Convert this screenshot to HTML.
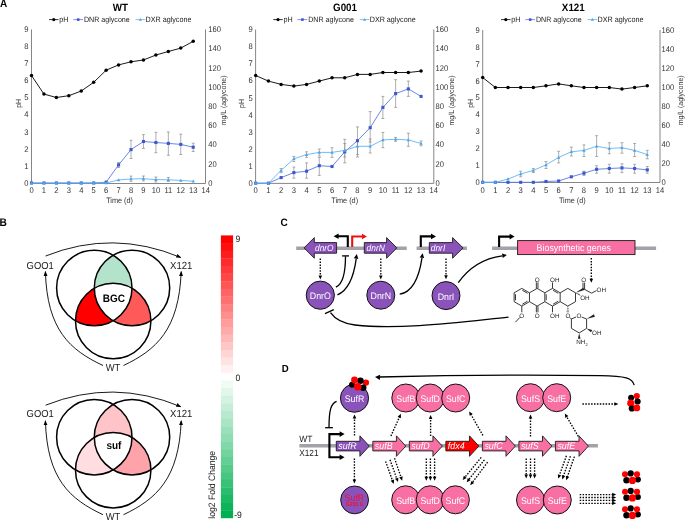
<!DOCTYPE html>
<html><head><meta charset="utf-8"><style>
html,body{margin:0;padding:0;background:#fff;width:685px;height:520px;overflow:hidden}
svg{display:block;font-family:"Liberation Sans", sans-serif;will-change:transform;text-rendering:geometricPrecision}
</style></head><body>
<svg width="685" height="520" viewBox="0 0 685 520">
<path d="M31.50,29.40V183.50H205.50V29.40" fill="none" stroke="#868686" stroke-width="1"/>
<text transform="translate(28.50,185.75) scale(1,1.08)" font-size="7.6" text-anchor="end" font-weight="normal" font-style="normal" fill="#333333" >0</text>
<text transform="translate(28.50,168.68) scale(1,1.08)" font-size="7.6" text-anchor="end" font-weight="normal" font-style="normal" fill="#333333" >1</text>
<text transform="translate(28.50,151.62) scale(1,1.08)" font-size="7.6" text-anchor="end" font-weight="normal" font-style="normal" fill="#333333" >2</text>
<text transform="translate(28.50,134.55) scale(1,1.08)" font-size="7.6" text-anchor="end" font-weight="normal" font-style="normal" fill="#333333" >3</text>
<text transform="translate(28.50,117.48) scale(1,1.08)" font-size="7.6" text-anchor="end" font-weight="normal" font-style="normal" fill="#333333" >4</text>
<text transform="translate(28.50,100.42) scale(1,1.08)" font-size="7.6" text-anchor="end" font-weight="normal" font-style="normal" fill="#333333" >5</text>
<text transform="translate(28.50,83.35) scale(1,1.08)" font-size="7.6" text-anchor="end" font-weight="normal" font-style="normal" fill="#333333" >6</text>
<text transform="translate(28.50,66.28) scale(1,1.08)" font-size="7.6" text-anchor="end" font-weight="normal" font-style="normal" fill="#333333" >7</text>
<text transform="translate(28.50,49.22) scale(1,1.08)" font-size="7.6" text-anchor="end" font-weight="normal" font-style="normal" fill="#333333" >8</text>
<text transform="translate(28.50,32.15) scale(1,1.08)" font-size="7.6" text-anchor="end" font-weight="normal" font-style="normal" fill="#333333" >9</text>
<text transform="translate(208.26,185.75) scale(1,1.08)" font-size="7.6" text-anchor="start" font-weight="normal" font-style="normal" fill="#333333" >0</text>
<text transform="translate(208.26,166.55) scale(1,1.08)" font-size="7.6" text-anchor="start" font-weight="normal" font-style="normal" fill="#333333" >20</text>
<text transform="translate(208.26,147.35) scale(1,1.08)" font-size="7.6" text-anchor="start" font-weight="normal" font-style="normal" fill="#333333" >40</text>
<text transform="translate(208.26,128.15) scale(1,1.08)" font-size="7.6" text-anchor="start" font-weight="normal" font-style="normal" fill="#333333" >60</text>
<text transform="translate(208.26,108.95) scale(1,1.08)" font-size="7.6" text-anchor="start" font-weight="normal" font-style="normal" fill="#333333" >80</text>
<text transform="translate(208.26,89.75) scale(1,1.08)" font-size="7.6" text-anchor="start" font-weight="normal" font-style="normal" fill="#333333" >100</text>
<text transform="translate(208.26,70.55) scale(1,1.08)" font-size="7.6" text-anchor="start" font-weight="normal" font-style="normal" fill="#333333" >120</text>
<text transform="translate(208.26,51.35) scale(1,1.08)" font-size="7.6" text-anchor="start" font-weight="normal" font-style="normal" fill="#333333" >140</text>
<text transform="translate(208.26,32.15) scale(1,1.08)" font-size="7.6" text-anchor="start" font-weight="normal" font-style="normal" fill="#333333" >160</text>
<text transform="translate(31.50,192.90) scale(1,1.08)" font-size="7.6" text-anchor="middle" font-weight="normal" font-style="normal" fill="#333333" >0</text>
<text transform="translate(43.94,192.90) scale(1,1.08)" font-size="7.6" text-anchor="middle" font-weight="normal" font-style="normal" fill="#333333" >1</text>
<text transform="translate(56.38,192.90) scale(1,1.08)" font-size="7.6" text-anchor="middle" font-weight="normal" font-style="normal" fill="#333333" >2</text>
<text transform="translate(68.82,192.90) scale(1,1.08)" font-size="7.6" text-anchor="middle" font-weight="normal" font-style="normal" fill="#333333" >3</text>
<text transform="translate(81.26,192.90) scale(1,1.08)" font-size="7.6" text-anchor="middle" font-weight="normal" font-style="normal" fill="#333333" >4</text>
<text transform="translate(93.70,192.90) scale(1,1.08)" font-size="7.6" text-anchor="middle" font-weight="normal" font-style="normal" fill="#333333" >5</text>
<text transform="translate(106.14,192.90) scale(1,1.08)" font-size="7.6" text-anchor="middle" font-weight="normal" font-style="normal" fill="#333333" >6</text>
<text transform="translate(118.58,192.90) scale(1,1.08)" font-size="7.6" text-anchor="middle" font-weight="normal" font-style="normal" fill="#333333" >7</text>
<text transform="translate(131.02,192.90) scale(1,1.08)" font-size="7.6" text-anchor="middle" font-weight="normal" font-style="normal" fill="#333333" >8</text>
<text transform="translate(143.46,192.90) scale(1,1.08)" font-size="7.6" text-anchor="middle" font-weight="normal" font-style="normal" fill="#333333" >9</text>
<text transform="translate(155.90,192.90) scale(1,1.08)" font-size="7.6" text-anchor="middle" font-weight="normal" font-style="normal" fill="#333333" >10</text>
<text transform="translate(168.34,192.90) scale(1,1.08)" font-size="7.6" text-anchor="middle" font-weight="normal" font-style="normal" fill="#333333" >11</text>
<text transform="translate(180.78,192.90) scale(1,1.08)" font-size="7.6" text-anchor="middle" font-weight="normal" font-style="normal" fill="#333333" >12</text>
<text transform="translate(193.22,192.90) scale(1,1.08)" font-size="7.6" text-anchor="middle" font-weight="normal" font-style="normal" fill="#333333" >13</text>
<text transform="translate(205.66,192.90) scale(1,1.08)" font-size="7.6" text-anchor="middle" font-weight="normal" font-style="normal" fill="#333333" >14</text>
<text transform="translate(119.58,202.50) scale(1,1.08)" font-size="7.3" text-anchor="middle" font-weight="normal" font-style="normal" fill="#333333" >Time (d)</text>
<text x="0" y="0" font-size="7" fill="#333333" text-anchor="middle" transform="translate(20.50,103.40) rotate(-90) scale(1,1.08)">pH</text>
<text x="0" y="0" font-size="7" fill="#333333" text-anchor="middle" transform="translate(226.16,100.40) rotate(-90) scale(1,1.08)">mg/L (aglycone)</text>
<text transform="translate(120.30,11.10) scale(1,1.08)" font-size="9.8" text-anchor="middle" font-weight="bold" font-style="normal" fill="#000" >WT</text>
<line x1="49.00" y1="19.6" x2="58.50" y2="19.6" stroke="#000" stroke-width="0.8"/>
<circle cx="53.80" cy="19.6" r="1.6" fill="#000"/>
<text transform="translate(59.20,22.10) scale(1,1.08)" font-size="7.2" text-anchor="start" font-weight="normal" font-style="normal" fill="#1a1a1a" >pH</text>
<line x1="73.30" y1="19.6" x2="83.10" y2="19.6" stroke="#5a78e0" stroke-width="0.8"/>
<rect x="76.90" y="18.3" width="2.6" height="2.6" fill="#3a57d4"/>
<text transform="translate(84.00,22.10) scale(1,1.08)" font-size="7.1" text-anchor="start" font-weight="normal" font-style="normal" fill="#1a1a1a" >DNR aglycone</text>
<line x1="135.50" y1="19.6" x2="145.30" y2="19.6" stroke="#62b4f2" stroke-width="0.8"/>
<path d="M140.40,18.0l1.6,2.8h-3.2z" fill="#4aa6ee"/>
<text transform="translate(145.50,22.10) scale(1,1.08)" font-size="7.2" text-anchor="start" font-weight="normal" font-style="normal" fill="#1a1a1a" >DXR aglycone</text>
<path d="M131.02,176.10V181.30M129.52,176.10h3M129.52,181.30h3" stroke="#8c8c8c" stroke-width="0.7" fill="none"/>
<path d="M143.46,176.00V181.00M141.96,176.00h3M141.96,181.00h3" stroke="#8c8c8c" stroke-width="0.7" fill="none"/>
<path d="M155.90,177.00V182.00M154.40,177.00h3M154.40,182.00h3" stroke="#8c8c8c" stroke-width="0.7" fill="none"/>
<path d="M168.34,177.50V181.50M166.84,177.50h3M166.84,181.50h3" stroke="#8c8c8c" stroke-width="0.7" fill="none"/>
<path d="M118.58,162.50V167.50M117.08,162.50h3M117.08,167.50h3" stroke="#8c8c8c" stroke-width="0.7" fill="none"/>
<path d="M131.02,140.30V158.50M129.52,140.30h3M129.52,158.50h3" stroke="#8c8c8c" stroke-width="0.7" fill="none"/>
<path d="M143.46,134.60V148.40M141.96,134.60h3M141.96,148.40h3" stroke="#8c8c8c" stroke-width="0.7" fill="none"/>
<path d="M155.90,132.30V152.70M154.40,132.30h3M154.40,152.70h3" stroke="#8c8c8c" stroke-width="0.7" fill="none"/>
<path d="M168.34,132.00V155.30M166.84,132.00h3M166.84,155.30h3" stroke="#8c8c8c" stroke-width="0.7" fill="none"/>
<path d="M180.78,134.20V154.50M179.28,134.20h3M179.28,154.50h3" stroke="#8c8c8c" stroke-width="0.7" fill="none"/>
<path d="M193.22,143.20V151.50M191.72,143.20h3M191.72,151.50h3" stroke="#8c8c8c" stroke-width="0.7" fill="none"/>
<polyline points="31.50,183.00 43.94,183.00 56.38,183.00 68.82,183.00 81.26,183.00 93.70,183.00 106.14,182.20 118.58,164.90 131.02,149.60 143.46,141.50 155.90,142.50 168.34,143.40 180.78,144.40 193.22,147.20" fill="none" stroke="#5a78e0" stroke-width="0.9"/>
<rect x="29.95" y="181.45" width="3.1" height="3.1" fill="#3a57d4"/>
<rect x="42.39" y="181.45" width="3.1" height="3.1" fill="#3a57d4"/>
<rect x="54.83" y="181.45" width="3.1" height="3.1" fill="#3a57d4"/>
<rect x="67.27" y="181.45" width="3.1" height="3.1" fill="#3a57d4"/>
<rect x="79.71" y="181.45" width="3.1" height="3.1" fill="#3a57d4"/>
<rect x="92.15" y="181.45" width="3.1" height="3.1" fill="#3a57d4"/>
<rect x="104.59" y="180.65" width="3.1" height="3.1" fill="#3a57d4"/>
<rect x="117.03" y="163.35" width="3.1" height="3.1" fill="#3a57d4"/>
<rect x="129.47" y="148.05" width="3.1" height="3.1" fill="#3a57d4"/>
<rect x="141.91" y="139.95" width="3.1" height="3.1" fill="#3a57d4"/>
<rect x="154.35" y="140.95" width="3.1" height="3.1" fill="#3a57d4"/>
<rect x="166.79" y="141.85" width="3.1" height="3.1" fill="#3a57d4"/>
<rect x="179.23" y="142.85" width="3.1" height="3.1" fill="#3a57d4"/>
<rect x="191.67" y="145.65" width="3.1" height="3.1" fill="#3a57d4"/>
<polyline points="31.50,183.00 43.94,183.00 56.38,183.00 68.82,183.00 81.26,183.00 93.70,183.00 106.14,183.00 118.58,179.90 131.02,179.00 143.46,178.70 155.90,179.60 168.34,179.80 180.78,180.40 193.22,181.30" fill="none" stroke="#62b4f2" stroke-width="0.9"/>
<path d="M31.50,181.30l1.7,3h-3.4z" fill="#4aa6ee"/>
<path d="M43.94,181.30l1.7,3h-3.4z" fill="#4aa6ee"/>
<path d="M56.38,181.30l1.7,3h-3.4z" fill="#4aa6ee"/>
<path d="M68.82,181.30l1.7,3h-3.4z" fill="#4aa6ee"/>
<path d="M81.26,181.30l1.7,3h-3.4z" fill="#4aa6ee"/>
<path d="M93.70,181.30l1.7,3h-3.4z" fill="#4aa6ee"/>
<path d="M106.14,181.30l1.7,3h-3.4z" fill="#4aa6ee"/>
<path d="M118.58,178.20l1.7,3h-3.4z" fill="#4aa6ee"/>
<path d="M131.02,177.30l1.7,3h-3.4z" fill="#4aa6ee"/>
<path d="M143.46,177.00l1.7,3h-3.4z" fill="#4aa6ee"/>
<path d="M155.90,177.90l1.7,3h-3.4z" fill="#4aa6ee"/>
<path d="M168.34,178.10l1.7,3h-3.4z" fill="#4aa6ee"/>
<path d="M180.78,178.70l1.7,3h-3.4z" fill="#4aa6ee"/>
<path d="M193.22,179.60l1.7,3h-3.4z" fill="#4aa6ee"/>
<polyline points="31.50,75.50 43.94,94.10 56.38,97.50 68.82,95.70 81.26,91.00 93.70,82.30 106.14,70.20 118.58,64.90 131.02,61.80 143.46,60.00 155.90,55.00 168.34,51.50 180.78,48.10 193.22,41.30" fill="none" stroke="#000" stroke-width="0.9"/>
<circle cx="31.50" cy="75.50" r="1.75" fill="#000"/>
<circle cx="43.94" cy="94.10" r="1.75" fill="#000"/>
<circle cx="56.38" cy="97.50" r="1.75" fill="#000"/>
<circle cx="68.82" cy="95.70" r="1.75" fill="#000"/>
<circle cx="81.26" cy="91.00" r="1.75" fill="#000"/>
<circle cx="93.70" cy="82.30" r="1.75" fill="#000"/>
<circle cx="106.14" cy="70.20" r="1.75" fill="#000"/>
<circle cx="118.58" cy="64.90" r="1.75" fill="#000"/>
<circle cx="131.02" cy="61.80" r="1.75" fill="#000"/>
<circle cx="143.46" cy="60.00" r="1.75" fill="#000"/>
<circle cx="155.90" cy="55.00" r="1.75" fill="#000"/>
<circle cx="168.34" cy="51.50" r="1.75" fill="#000"/>
<circle cx="180.78" cy="48.10" r="1.75" fill="#000"/>
<circle cx="193.22" cy="41.30" r="1.75" fill="#000"/>
<path d="M255.60,29.50V183.40H433.80V29.50" fill="none" stroke="#868686" stroke-width="1"/>
<text transform="translate(252.70,185.85) scale(1,1.08)" font-size="7.6" text-anchor="end" font-weight="normal" font-style="normal" fill="#333333" >0</text>
<text transform="translate(252.70,168.78) scale(1,1.08)" font-size="7.6" text-anchor="end" font-weight="normal" font-style="normal" fill="#333333" >1</text>
<text transform="translate(252.70,151.72) scale(1,1.08)" font-size="7.6" text-anchor="end" font-weight="normal" font-style="normal" fill="#333333" >2</text>
<text transform="translate(252.70,134.65) scale(1,1.08)" font-size="7.6" text-anchor="end" font-weight="normal" font-style="normal" fill="#333333" >3</text>
<text transform="translate(252.70,117.58) scale(1,1.08)" font-size="7.6" text-anchor="end" font-weight="normal" font-style="normal" fill="#333333" >4</text>
<text transform="translate(252.70,100.52) scale(1,1.08)" font-size="7.6" text-anchor="end" font-weight="normal" font-style="normal" fill="#333333" >5</text>
<text transform="translate(252.70,83.45) scale(1,1.08)" font-size="7.6" text-anchor="end" font-weight="normal" font-style="normal" fill="#333333" >6</text>
<text transform="translate(252.70,66.38) scale(1,1.08)" font-size="7.6" text-anchor="end" font-weight="normal" font-style="normal" fill="#333333" >7</text>
<text transform="translate(252.70,49.32) scale(1,1.08)" font-size="7.6" text-anchor="end" font-weight="normal" font-style="normal" fill="#333333" >8</text>
<text transform="translate(252.70,32.25) scale(1,1.08)" font-size="7.6" text-anchor="end" font-weight="normal" font-style="normal" fill="#333333" >9</text>
<text transform="translate(435.48,185.85) scale(1,1.08)" font-size="7.6" text-anchor="start" font-weight="normal" font-style="normal" fill="#333333" >0</text>
<text transform="translate(435.48,166.65) scale(1,1.08)" font-size="7.6" text-anchor="start" font-weight="normal" font-style="normal" fill="#333333" >20</text>
<text transform="translate(435.48,147.45) scale(1,1.08)" font-size="7.6" text-anchor="start" font-weight="normal" font-style="normal" fill="#333333" >40</text>
<text transform="translate(435.48,128.25) scale(1,1.08)" font-size="7.6" text-anchor="start" font-weight="normal" font-style="normal" fill="#333333" >60</text>
<text transform="translate(435.48,109.05) scale(1,1.08)" font-size="7.6" text-anchor="start" font-weight="normal" font-style="normal" fill="#333333" >80</text>
<text transform="translate(435.48,89.85) scale(1,1.08)" font-size="7.6" text-anchor="start" font-weight="normal" font-style="normal" fill="#333333" >100</text>
<text transform="translate(435.48,70.65) scale(1,1.08)" font-size="7.6" text-anchor="start" font-weight="normal" font-style="normal" fill="#333333" >120</text>
<text transform="translate(435.48,51.45) scale(1,1.08)" font-size="7.6" text-anchor="start" font-weight="normal" font-style="normal" fill="#333333" >140</text>
<text transform="translate(435.48,32.25) scale(1,1.08)" font-size="7.6" text-anchor="start" font-weight="normal" font-style="normal" fill="#333333" >160</text>
<text transform="translate(255.70,192.90) scale(1,1.08)" font-size="7.6" text-anchor="middle" font-weight="normal" font-style="normal" fill="#333333" >0</text>
<text transform="translate(268.42,192.90) scale(1,1.08)" font-size="7.6" text-anchor="middle" font-weight="normal" font-style="normal" fill="#333333" >1</text>
<text transform="translate(281.14,192.90) scale(1,1.08)" font-size="7.6" text-anchor="middle" font-weight="normal" font-style="normal" fill="#333333" >2</text>
<text transform="translate(293.86,192.90) scale(1,1.08)" font-size="7.6" text-anchor="middle" font-weight="normal" font-style="normal" fill="#333333" >3</text>
<text transform="translate(306.58,192.90) scale(1,1.08)" font-size="7.6" text-anchor="middle" font-weight="normal" font-style="normal" fill="#333333" >4</text>
<text transform="translate(319.30,192.90) scale(1,1.08)" font-size="7.6" text-anchor="middle" font-weight="normal" font-style="normal" fill="#333333" >5</text>
<text transform="translate(332.02,192.90) scale(1,1.08)" font-size="7.6" text-anchor="middle" font-weight="normal" font-style="normal" fill="#333333" >6</text>
<text transform="translate(344.74,192.90) scale(1,1.08)" font-size="7.6" text-anchor="middle" font-weight="normal" font-style="normal" fill="#333333" >7</text>
<text transform="translate(357.46,192.90) scale(1,1.08)" font-size="7.6" text-anchor="middle" font-weight="normal" font-style="normal" fill="#333333" >8</text>
<text transform="translate(370.18,192.90) scale(1,1.08)" font-size="7.6" text-anchor="middle" font-weight="normal" font-style="normal" fill="#333333" >9</text>
<text transform="translate(382.90,192.90) scale(1,1.08)" font-size="7.6" text-anchor="middle" font-weight="normal" font-style="normal" fill="#333333" >10</text>
<text transform="translate(395.62,192.90) scale(1,1.08)" font-size="7.6" text-anchor="middle" font-weight="normal" font-style="normal" fill="#333333" >11</text>
<text transform="translate(408.34,192.90) scale(1,1.08)" font-size="7.6" text-anchor="middle" font-weight="normal" font-style="normal" fill="#333333" >12</text>
<text transform="translate(421.06,192.90) scale(1,1.08)" font-size="7.6" text-anchor="middle" font-weight="normal" font-style="normal" fill="#333333" >13</text>
<text transform="translate(433.78,192.90) scale(1,1.08)" font-size="7.6" text-anchor="middle" font-weight="normal" font-style="normal" fill="#333333" >14</text>
<text transform="translate(344.64,202.50) scale(1,1.08)" font-size="7.3" text-anchor="middle" font-weight="normal" font-style="normal" fill="#333333" >Time (d)</text>
<text x="0" y="0" font-size="7" fill="#333333" text-anchor="middle" transform="translate(243.80,103.50) rotate(-90) scale(1,1.08)">pH</text>
<text x="0" y="0" font-size="7" fill="#333333" text-anchor="middle" transform="translate(454.28,100.50) rotate(-90) scale(1,1.08)">mg/L (aglycone)</text>
<text transform="translate(345.00,11.10) scale(1,1.08)" font-size="9.8" text-anchor="middle" font-weight="bold" font-style="normal" fill="#000" >G001</text>
<line x1="273.20" y1="19.6" x2="282.70" y2="19.6" stroke="#000" stroke-width="0.8"/>
<circle cx="278.00" cy="19.6" r="1.6" fill="#000"/>
<text transform="translate(283.40,22.10) scale(1,1.08)" font-size="7.2" text-anchor="start" font-weight="normal" font-style="normal" fill="#1a1a1a" >pH</text>
<line x1="297.50" y1="19.6" x2="307.30" y2="19.6" stroke="#5a78e0" stroke-width="0.8"/>
<rect x="301.10" y="18.3" width="2.6" height="2.6" fill="#3a57d4"/>
<text transform="translate(308.20,22.10) scale(1,1.08)" font-size="7.1" text-anchor="start" font-weight="normal" font-style="normal" fill="#1a1a1a" >DNR aglycone</text>
<line x1="359.70" y1="19.6" x2="369.50" y2="19.6" stroke="#62b4f2" stroke-width="0.8"/>
<path d="M364.60,18.0l1.6,2.8h-3.2z" fill="#4aa6ee"/>
<text transform="translate(369.70,22.10) scale(1,1.08)" font-size="7.2" text-anchor="start" font-weight="normal" font-style="normal" fill="#1a1a1a" >DXR aglycone</text>
<path d="M281.14,168.50V172.60M279.64,168.50h3M279.64,172.60h3" stroke="#8c8c8c" stroke-width="0.7" fill="none"/>
<path d="M293.86,156.50V161.50M292.36,156.50h3M292.36,161.50h3" stroke="#8c8c8c" stroke-width="0.7" fill="none"/>
<path d="M306.58,151.80V157.40M305.08,151.80h3M305.08,157.40h3" stroke="#8c8c8c" stroke-width="0.7" fill="none"/>
<path d="M319.30,149.00V156.00M317.80,149.00h3M317.80,156.00h3" stroke="#8c8c8c" stroke-width="0.7" fill="none"/>
<path d="M332.02,147.70V157.40M330.52,147.70h3M330.52,157.40h3" stroke="#8c8c8c" stroke-width="0.7" fill="none"/>
<path d="M344.74,143.50V157.00M343.24,143.50h3M343.24,157.00h3" stroke="#8c8c8c" stroke-width="0.7" fill="none"/>
<path d="M357.46,141.00V157.00M355.96,141.00h3M355.96,157.00h3" stroke="#8c8c8c" stroke-width="0.7" fill="none"/>
<path d="M370.18,139.00V153.00M368.68,139.00h3M368.68,153.00h3" stroke="#8c8c8c" stroke-width="0.7" fill="none"/>
<path d="M382.90,132.40V147.70M381.40,132.40h3M381.40,147.70h3" stroke="#8c8c8c" stroke-width="0.7" fill="none"/>
<path d="M395.62,137.40V141.30M394.12,137.40h3M394.12,141.30h3" stroke="#8c8c8c" stroke-width="0.7" fill="none"/>
<path d="M408.34,133.20V146.30M406.84,133.20h3M406.84,146.30h3" stroke="#8c8c8c" stroke-width="0.7" fill="none"/>
<path d="M421.06,141.00V145.80M419.56,141.00h3M419.56,145.80h3" stroke="#8c8c8c" stroke-width="0.7" fill="none"/>
<path d="M293.86,167.10V178.20M292.36,167.10h3M292.36,178.20h3" stroke="#8c8c8c" stroke-width="0.7" fill="none"/>
<path d="M306.58,162.90V178.20M305.08,162.90h3M305.08,178.20h3" stroke="#8c8c8c" stroke-width="0.7" fill="none"/>
<path d="M319.30,157.40V175.40M317.80,157.40h3M317.80,175.40h3" stroke="#8c8c8c" stroke-width="0.7" fill="none"/>
<path d="M344.74,139.30V162.90M343.24,139.30h3M343.24,162.90h3" stroke="#8c8c8c" stroke-width="0.7" fill="none"/>
<path d="M357.46,126.90V154.60M355.96,126.90h3M355.96,154.60h3" stroke="#8c8c8c" stroke-width="0.7" fill="none"/>
<path d="M370.18,111.60V142.10M368.68,111.60h3M368.68,142.10h3" stroke="#8c8c8c" stroke-width="0.7" fill="none"/>
<path d="M382.90,96.40V118.50M381.40,96.40h3M381.40,118.50h3" stroke="#8c8c8c" stroke-width="0.7" fill="none"/>
<path d="M395.62,79.70V107.40M394.12,79.70h3M394.12,107.40h3" stroke="#8c8c8c" stroke-width="0.7" fill="none"/>
<path d="M408.34,81.10V96.40M406.84,81.10h3M406.84,96.40h3" stroke="#8c8c8c" stroke-width="0.7" fill="none"/>
<polyline points="255.70,183.20 268.42,183.20 281.14,177.60 293.86,172.60 306.58,171.20 319.30,165.70 332.02,166.50 344.74,151.80 357.46,140.70 370.18,127.70 382.90,107.40 395.62,93.60 408.34,88.90 421.06,96.40" fill="none" stroke="#5a78e0" stroke-width="0.9"/>
<rect x="254.15" y="181.65" width="3.1" height="3.1" fill="#3a57d4"/>
<rect x="266.87" y="181.65" width="3.1" height="3.1" fill="#3a57d4"/>
<rect x="279.59" y="176.05" width="3.1" height="3.1" fill="#3a57d4"/>
<rect x="292.31" y="171.05" width="3.1" height="3.1" fill="#3a57d4"/>
<rect x="305.03" y="169.65" width="3.1" height="3.1" fill="#3a57d4"/>
<rect x="317.75" y="164.15" width="3.1" height="3.1" fill="#3a57d4"/>
<rect x="330.47" y="164.95" width="3.1" height="3.1" fill="#3a57d4"/>
<rect x="343.19" y="150.25" width="3.1" height="3.1" fill="#3a57d4"/>
<rect x="355.91" y="139.15" width="3.1" height="3.1" fill="#3a57d4"/>
<rect x="368.63" y="126.15" width="3.1" height="3.1" fill="#3a57d4"/>
<rect x="381.35" y="105.85" width="3.1" height="3.1" fill="#3a57d4"/>
<rect x="394.07" y="92.05" width="3.1" height="3.1" fill="#3a57d4"/>
<rect x="406.79" y="87.35" width="3.1" height="3.1" fill="#3a57d4"/>
<rect x="419.51" y="94.85" width="3.1" height="3.1" fill="#3a57d4"/>
<polyline points="255.70,183.20 268.42,183.20 281.14,170.40 293.86,158.80 306.58,154.60 319.30,152.40 332.02,152.40 344.74,150.40 357.46,146.30 370.18,146.30 382.90,139.90 395.62,139.30 408.34,139.90 421.06,143.50" fill="none" stroke="#62b4f2" stroke-width="0.9"/>
<path d="M255.70,181.50l1.7,3h-3.4z" fill="#4aa6ee"/>
<path d="M268.42,181.50l1.7,3h-3.4z" fill="#4aa6ee"/>
<path d="M281.14,168.70l1.7,3h-3.4z" fill="#4aa6ee"/>
<path d="M293.86,157.10l1.7,3h-3.4z" fill="#4aa6ee"/>
<path d="M306.58,152.90l1.7,3h-3.4z" fill="#4aa6ee"/>
<path d="M319.30,150.70l1.7,3h-3.4z" fill="#4aa6ee"/>
<path d="M332.02,150.70l1.7,3h-3.4z" fill="#4aa6ee"/>
<path d="M344.74,148.70l1.7,3h-3.4z" fill="#4aa6ee"/>
<path d="M357.46,144.60l1.7,3h-3.4z" fill="#4aa6ee"/>
<path d="M370.18,144.60l1.7,3h-3.4z" fill="#4aa6ee"/>
<path d="M382.90,138.20l1.7,3h-3.4z" fill="#4aa6ee"/>
<path d="M395.62,137.60l1.7,3h-3.4z" fill="#4aa6ee"/>
<path d="M408.34,138.20l1.7,3h-3.4z" fill="#4aa6ee"/>
<path d="M421.06,141.80l1.7,3h-3.4z" fill="#4aa6ee"/>
<polyline points="255.70,75.50 268.42,81.10 281.14,84.40 293.86,86.10 306.58,84.40 319.30,81.10 332.02,77.80 344.74,77.80 357.46,74.40 370.18,74.40 382.90,72.50 395.62,72.50 408.34,72.50 421.06,71.10" fill="none" stroke="#000" stroke-width="0.9"/>
<circle cx="255.70" cy="75.50" r="1.75" fill="#000"/>
<circle cx="268.42" cy="81.10" r="1.75" fill="#000"/>
<circle cx="281.14" cy="84.40" r="1.75" fill="#000"/>
<circle cx="293.86" cy="86.10" r="1.75" fill="#000"/>
<circle cx="306.58" cy="84.40" r="1.75" fill="#000"/>
<circle cx="319.30" cy="81.10" r="1.75" fill="#000"/>
<circle cx="332.02" cy="77.80" r="1.75" fill="#000"/>
<circle cx="344.74" cy="77.80" r="1.75" fill="#000"/>
<circle cx="357.46" cy="74.40" r="1.75" fill="#000"/>
<circle cx="370.18" cy="74.40" r="1.75" fill="#000"/>
<circle cx="382.90" cy="72.50" r="1.75" fill="#000"/>
<circle cx="395.62" cy="72.50" r="1.75" fill="#000"/>
<circle cx="408.34" cy="72.50" r="1.75" fill="#000"/>
<circle cx="421.06" cy="71.10" r="1.75" fill="#000"/>
<path d="M482.70,30.00V182.50H660.00V30.00" fill="none" stroke="#868686" stroke-width="1"/>
<text transform="translate(479.70,185.05) scale(1,1.08)" font-size="7.6" text-anchor="end" font-weight="normal" font-style="normal" fill="#333333" >0</text>
<text transform="translate(479.70,168.13) scale(1,1.08)" font-size="7.6" text-anchor="end" font-weight="normal" font-style="normal" fill="#333333" >1</text>
<text transform="translate(479.70,151.21) scale(1,1.08)" font-size="7.6" text-anchor="end" font-weight="normal" font-style="normal" fill="#333333" >2</text>
<text transform="translate(479.70,134.28) scale(1,1.08)" font-size="7.6" text-anchor="end" font-weight="normal" font-style="normal" fill="#333333" >3</text>
<text transform="translate(479.70,117.36) scale(1,1.08)" font-size="7.6" text-anchor="end" font-weight="normal" font-style="normal" fill="#333333" >4</text>
<text transform="translate(479.70,100.44) scale(1,1.08)" font-size="7.6" text-anchor="end" font-weight="normal" font-style="normal" fill="#333333" >5</text>
<text transform="translate(479.70,83.52) scale(1,1.08)" font-size="7.6" text-anchor="end" font-weight="normal" font-style="normal" fill="#333333" >6</text>
<text transform="translate(479.70,66.59) scale(1,1.08)" font-size="7.6" text-anchor="end" font-weight="normal" font-style="normal" fill="#333333" >7</text>
<text transform="translate(479.70,49.67) scale(1,1.08)" font-size="7.6" text-anchor="end" font-weight="normal" font-style="normal" fill="#333333" >8</text>
<text transform="translate(479.70,32.75) scale(1,1.08)" font-size="7.6" text-anchor="end" font-weight="normal" font-style="normal" fill="#333333" >9</text>
<text transform="translate(661.54,185.05) scale(1,1.08)" font-size="7.6" text-anchor="start" font-weight="normal" font-style="normal" fill="#333333" >0</text>
<text transform="translate(661.54,166.01) scale(1,1.08)" font-size="7.6" text-anchor="start" font-weight="normal" font-style="normal" fill="#333333" >20</text>
<text transform="translate(661.54,146.98) scale(1,1.08)" font-size="7.6" text-anchor="start" font-weight="normal" font-style="normal" fill="#333333" >40</text>
<text transform="translate(661.54,127.94) scale(1,1.08)" font-size="7.6" text-anchor="start" font-weight="normal" font-style="normal" fill="#333333" >60</text>
<text transform="translate(661.54,108.90) scale(1,1.08)" font-size="7.6" text-anchor="start" font-weight="normal" font-style="normal" fill="#333333" >80</text>
<text transform="translate(661.54,89.86) scale(1,1.08)" font-size="7.6" text-anchor="start" font-weight="normal" font-style="normal" fill="#333333" >100</text>
<text transform="translate(661.54,70.83) scale(1,1.08)" font-size="7.6" text-anchor="start" font-weight="normal" font-style="normal" fill="#333333" >120</text>
<text transform="translate(661.54,51.79) scale(1,1.08)" font-size="7.6" text-anchor="start" font-weight="normal" font-style="normal" fill="#333333" >140</text>
<text transform="translate(661.54,32.75) scale(1,1.08)" font-size="7.6" text-anchor="start" font-weight="normal" font-style="normal" fill="#333333" >160</text>
<text transform="translate(482.70,192.90) scale(1,1.08)" font-size="7.6" text-anchor="middle" font-weight="normal" font-style="normal" fill="#333333" >0</text>
<text transform="translate(495.36,192.90) scale(1,1.08)" font-size="7.6" text-anchor="middle" font-weight="normal" font-style="normal" fill="#333333" >1</text>
<text transform="translate(508.02,192.90) scale(1,1.08)" font-size="7.6" text-anchor="middle" font-weight="normal" font-style="normal" fill="#333333" >2</text>
<text transform="translate(520.68,192.90) scale(1,1.08)" font-size="7.6" text-anchor="middle" font-weight="normal" font-style="normal" fill="#333333" >3</text>
<text transform="translate(533.34,192.90) scale(1,1.08)" font-size="7.6" text-anchor="middle" font-weight="normal" font-style="normal" fill="#333333" >4</text>
<text transform="translate(546.00,192.90) scale(1,1.08)" font-size="7.6" text-anchor="middle" font-weight="normal" font-style="normal" fill="#333333" >5</text>
<text transform="translate(558.66,192.90) scale(1,1.08)" font-size="7.6" text-anchor="middle" font-weight="normal" font-style="normal" fill="#333333" >6</text>
<text transform="translate(571.32,192.90) scale(1,1.08)" font-size="7.6" text-anchor="middle" font-weight="normal" font-style="normal" fill="#333333" >7</text>
<text transform="translate(583.98,192.90) scale(1,1.08)" font-size="7.6" text-anchor="middle" font-weight="normal" font-style="normal" fill="#333333" >8</text>
<text transform="translate(596.64,192.90) scale(1,1.08)" font-size="7.6" text-anchor="middle" font-weight="normal" font-style="normal" fill="#333333" >9</text>
<text transform="translate(609.30,192.90) scale(1,1.08)" font-size="7.6" text-anchor="middle" font-weight="normal" font-style="normal" fill="#333333" >10</text>
<text transform="translate(621.96,192.90) scale(1,1.08)" font-size="7.6" text-anchor="middle" font-weight="normal" font-style="normal" fill="#333333" >11</text>
<text transform="translate(634.62,192.90) scale(1,1.08)" font-size="7.6" text-anchor="middle" font-weight="normal" font-style="normal" fill="#333333" >12</text>
<text transform="translate(647.28,192.90) scale(1,1.08)" font-size="7.6" text-anchor="middle" font-weight="normal" font-style="normal" fill="#333333" >13</text>
<text transform="translate(659.94,192.90) scale(1,1.08)" font-size="7.6" text-anchor="middle" font-weight="normal" font-style="normal" fill="#333333" >14</text>
<text transform="translate(572.32,202.50) scale(1,1.08)" font-size="7.3" text-anchor="middle" font-weight="normal" font-style="normal" fill="#333333" >Time (d)</text>
<text x="0" y="0" font-size="7" fill="#333333" text-anchor="middle" transform="translate(472.70,103.35) rotate(-90) scale(1,1.08)">pH</text>
<text x="0" y="0" font-size="7" fill="#333333" text-anchor="middle" transform="translate(682.74,100.35) rotate(-90) scale(1,1.08)">mg/L (aglycone)</text>
<text transform="translate(573.30,11.10) scale(1,1.08)" font-size="9.8" text-anchor="middle" font-weight="bold" font-style="normal" fill="#000" >X121</text>
<line x1="501.00" y1="19.6" x2="510.50" y2="19.6" stroke="#000" stroke-width="0.8"/>
<circle cx="505.80" cy="19.6" r="1.6" fill="#000"/>
<text transform="translate(511.20,22.10) scale(1,1.08)" font-size="7.2" text-anchor="start" font-weight="normal" font-style="normal" fill="#1a1a1a" >pH</text>
<line x1="525.30" y1="19.6" x2="535.10" y2="19.6" stroke="#5a78e0" stroke-width="0.8"/>
<rect x="528.90" y="18.3" width="2.6" height="2.6" fill="#3a57d4"/>
<text transform="translate(536.00,22.10) scale(1,1.08)" font-size="7.1" text-anchor="start" font-weight="normal" font-style="normal" fill="#1a1a1a" >DNR aglycone</text>
<line x1="587.50" y1="19.6" x2="597.30" y2="19.6" stroke="#62b4f2" stroke-width="0.8"/>
<path d="M592.40,18.0l1.6,2.8h-3.2z" fill="#4aa6ee"/>
<text transform="translate(597.50,22.10) scale(1,1.08)" font-size="7.2" text-anchor="start" font-weight="normal" font-style="normal" fill="#1a1a1a" >DXR aglycone</text>
<path d="M520.68,171.20V176.80M519.18,171.20h3M519.18,176.80h3" stroke="#8c8c8c" stroke-width="0.7" fill="none"/>
<path d="M533.34,168.50V172.60M531.84,168.50h3M531.84,172.60h3" stroke="#8c8c8c" stroke-width="0.7" fill="none"/>
<path d="M546.00,161.50V168.50M544.50,161.50h3M544.50,168.50h3" stroke="#8c8c8c" stroke-width="0.7" fill="none"/>
<path d="M558.66,151.30V162.90M557.16,151.30h3M557.16,162.90h3" stroke="#8c8c8c" stroke-width="0.7" fill="none"/>
<path d="M571.32,147.10V156.00M569.82,147.10h3M569.82,156.00h3" stroke="#8c8c8c" stroke-width="0.7" fill="none"/>
<path d="M583.98,144.90V156.50M582.48,144.90h3M582.48,156.50h3" stroke="#8c8c8c" stroke-width="0.7" fill="none"/>
<path d="M596.64,135.70V156.50M595.14,135.70h3M595.14,156.50h3" stroke="#8c8c8c" stroke-width="0.7" fill="none"/>
<path d="M609.30,142.70V153.80M607.80,142.70h3M607.80,153.80h3" stroke="#8c8c8c" stroke-width="0.7" fill="none"/>
<path d="M621.96,142.70V153.20M620.46,142.70h3M620.46,153.20h3" stroke="#8c8c8c" stroke-width="0.7" fill="none"/>
<path d="M634.62,143.50V156.50M633.12,143.50h3M633.12,156.50h3" stroke="#8c8c8c" stroke-width="0.7" fill="none"/>
<path d="M647.28,150.40V158.80M645.78,150.40h3M645.78,158.80h3" stroke="#8c8c8c" stroke-width="0.7" fill="none"/>
<path d="M583.98,171.20V175.40M582.48,171.20h3M582.48,175.40h3" stroke="#8c8c8c" stroke-width="0.7" fill="none"/>
<path d="M596.64,165.70V173.20M595.14,165.70h3M595.14,173.20h3" stroke="#8c8c8c" stroke-width="0.7" fill="none"/>
<path d="M609.30,164.30V173.20M607.80,164.30h3M607.80,173.20h3" stroke="#8c8c8c" stroke-width="0.7" fill="none"/>
<path d="M621.96,163.80V172.60M620.46,163.80h3M620.46,172.60h3" stroke="#8c8c8c" stroke-width="0.7" fill="none"/>
<path d="M634.62,164.30V173.20M633.12,164.30h3M633.12,173.20h3" stroke="#8c8c8c" stroke-width="0.7" fill="none"/>
<path d="M647.28,166.50V173.20M645.78,166.50h3M645.78,173.20h3" stroke="#8c8c8c" stroke-width="0.7" fill="none"/>
<polyline points="482.70,182.30 495.36,182.30 508.02,182.30 520.68,182.30 533.34,182.30 546.00,181.50 558.66,181.00 571.32,176.80 583.98,173.20 596.64,169.30 609.30,168.50 621.96,167.90 634.62,168.50 647.28,169.90" fill="none" stroke="#5a78e0" stroke-width="0.9"/>
<rect x="481.15" y="180.75" width="3.1" height="3.1" fill="#3a57d4"/>
<rect x="493.81" y="180.75" width="3.1" height="3.1" fill="#3a57d4"/>
<rect x="506.47" y="180.75" width="3.1" height="3.1" fill="#3a57d4"/>
<rect x="519.13" y="180.75" width="3.1" height="3.1" fill="#3a57d4"/>
<rect x="531.79" y="180.75" width="3.1" height="3.1" fill="#3a57d4"/>
<rect x="544.45" y="179.95" width="3.1" height="3.1" fill="#3a57d4"/>
<rect x="557.11" y="179.45" width="3.1" height="3.1" fill="#3a57d4"/>
<rect x="569.77" y="175.25" width="3.1" height="3.1" fill="#3a57d4"/>
<rect x="582.43" y="171.65" width="3.1" height="3.1" fill="#3a57d4"/>
<rect x="595.09" y="167.75" width="3.1" height="3.1" fill="#3a57d4"/>
<rect x="607.75" y="166.95" width="3.1" height="3.1" fill="#3a57d4"/>
<rect x="620.41" y="166.35" width="3.1" height="3.1" fill="#3a57d4"/>
<rect x="633.07" y="166.95" width="3.1" height="3.1" fill="#3a57d4"/>
<rect x="645.73" y="168.35" width="3.1" height="3.1" fill="#3a57d4"/>
<polyline points="482.70,182.30 495.36,182.30 508.02,179.00 520.68,174.00 533.34,170.40 546.00,164.90 558.66,157.40 571.32,151.80 583.98,150.40 596.64,146.30 609.30,148.50 621.96,147.70 634.62,150.40 647.28,154.60" fill="none" stroke="#62b4f2" stroke-width="0.9"/>
<path d="M482.70,180.60l1.7,3h-3.4z" fill="#4aa6ee"/>
<path d="M495.36,180.60l1.7,3h-3.4z" fill="#4aa6ee"/>
<path d="M508.02,177.30l1.7,3h-3.4z" fill="#4aa6ee"/>
<path d="M520.68,172.30l1.7,3h-3.4z" fill="#4aa6ee"/>
<path d="M533.34,168.70l1.7,3h-3.4z" fill="#4aa6ee"/>
<path d="M546.00,163.20l1.7,3h-3.4z" fill="#4aa6ee"/>
<path d="M558.66,155.70l1.7,3h-3.4z" fill="#4aa6ee"/>
<path d="M571.32,150.10l1.7,3h-3.4z" fill="#4aa6ee"/>
<path d="M583.98,148.70l1.7,3h-3.4z" fill="#4aa6ee"/>
<path d="M596.64,144.60l1.7,3h-3.4z" fill="#4aa6ee"/>
<path d="M609.30,146.80l1.7,3h-3.4z" fill="#4aa6ee"/>
<path d="M621.96,146.00l1.7,3h-3.4z" fill="#4aa6ee"/>
<path d="M634.62,148.70l1.7,3h-3.4z" fill="#4aa6ee"/>
<path d="M647.28,152.90l1.7,3h-3.4z" fill="#4aa6ee"/>
<polyline points="482.70,77.50 495.36,87.50 508.02,87.50 520.68,87.50 533.34,87.50 546.00,85.80 558.66,83.90 571.32,85.80 583.98,87.50 596.64,87.50 609.30,87.50 621.96,89.10 634.62,87.50 647.28,85.80" fill="none" stroke="#000" stroke-width="0.9"/>
<circle cx="482.70" cy="77.50" r="1.75" fill="#000"/>
<circle cx="495.36" cy="87.50" r="1.75" fill="#000"/>
<circle cx="508.02" cy="87.50" r="1.75" fill="#000"/>
<circle cx="520.68" cy="87.50" r="1.75" fill="#000"/>
<circle cx="533.34" cy="87.50" r="1.75" fill="#000"/>
<circle cx="546.00" cy="85.80" r="1.75" fill="#000"/>
<circle cx="558.66" cy="83.90" r="1.75" fill="#000"/>
<circle cx="571.32" cy="85.80" r="1.75" fill="#000"/>
<circle cx="583.98" cy="87.50" r="1.75" fill="#000"/>
<circle cx="596.64" cy="87.50" r="1.75" fill="#000"/>
<circle cx="609.30" cy="87.50" r="1.75" fill="#000"/>
<circle cx="621.96" cy="89.10" r="1.75" fill="#000"/>
<circle cx="634.62" cy="87.50" r="1.75" fill="#000"/>
<circle cx="647.28" cy="85.80" r="1.75" fill="#000"/>
<text transform="translate(-0.10,7.00) scale(1,1.08)" font-size="10" text-anchor="start" font-weight="bold" font-style="normal" fill="#000" >A</text>
<text transform="translate(-0.40,226.00) scale(1,1.08)" font-size="10.2" text-anchor="start" font-weight="bold" font-style="normal" fill="#000" >B</text>
<text transform="translate(280.60,225.50) scale(1,1.08)" font-size="10" text-anchor="start" font-weight="bold" font-style="normal" fill="#000" >C</text>
<text transform="translate(281.70,371.60) scale(1,1.08)" font-size="9.6" text-anchor="start" font-weight="bold" font-style="normal" fill="#000" >D</text>
<defs><marker id="ah" viewBox="0 0 10 10" refX="9" refY="5" markerWidth="5" markerHeight="5" orient="auto-start-reverse" markerUnits="userSpaceOnUse"><path d="M0,1L10,5L0,9z" fill="#000"/></marker></defs>
<defs><clipPath id="v0L"><circle cx="94.3" cy="288.0" r="37.7"/></clipPath><clipPath id="v0R"><circle cx="132.0" cy="288.0" r="37.7"/></clipPath><clipPath id="v0B"><circle cx="113.2" cy="321.0" r="37.7"/></clipPath></defs>
<g clip-path="url(#v0L)"><circle cx="132.0" cy="288.0" r="37.7" fill="#b4e3cc"/></g>
<g clip-path="url(#v0B)"><circle cx="94.3" cy="288.0" r="37.7" fill="#ff0000"/><circle cx="132.0" cy="288.0" r="37.7" fill="#ff5a5a"/></g>
<g clip-path="url(#v0B)"><g clip-path="url(#v0L)"><circle cx="132.0" cy="288.0" r="37.7" fill="#fff"/></g></g>
<circle cx="94.3" cy="288.0" r="37.7" fill="none" stroke="#000" stroke-width="1.5"/>
<circle cx="132.0" cy="288.0" r="37.7" fill="none" stroke="#000" stroke-width="1.5"/>
<circle cx="113.2" cy="321.0" r="37.7" fill="none" stroke="#000" stroke-width="1.5"/>
<text transform="translate(113.90,302.00) scale(1,1.08)" font-size="10" text-anchor="middle" font-weight="bold" font-style="normal" fill="#000">BGC</text>
<text transform="translate(26.60,269.30) scale(1,1.08)" font-size="9.4" text-anchor="start" font-weight="normal" font-style="normal" fill="#1a1a1a">GOO1</text>
<text transform="translate(170.00,269.30) scale(1,1.08)" font-size="9.6" text-anchor="start" font-weight="normal" font-style="normal" fill="#1a1a1a">X121</text>
<text transform="translate(113.00,371.00) scale(1,1.08)" font-size="9.4" text-anchor="middle" font-weight="normal" font-style="normal" fill="#1a1a1a">WT</text>
<path d="M45.6,256 Q113,229 180.8,257.5" fill="none" stroke="#000" stroke-width="0.9" marker-end="url(#ah)"/>
<path d="M103,365.5 C70,350 47,330 45.4,271.5" fill="none" stroke="#000" stroke-width="0.9" marker-end="url(#ah)"/>
<path d="M123.5,365.5 C156,350 179,330 181.2,271.5" fill="none" stroke="#000" stroke-width="0.9" marker-end="url(#ah)"/>
<defs><clipPath id="v149L"><circle cx="94.3" cy="437.2" r="37.7"/></clipPath><clipPath id="v149R"><circle cx="132.0" cy="437.2" r="37.7"/></clipPath><clipPath id="v149B"><circle cx="113.2" cy="470.2" r="37.7"/></clipPath></defs>
<g clip-path="url(#v149L)"><circle cx="132.0" cy="437.2" r="37.7" fill="#ffc4c8"/></g>
<g clip-path="url(#v149B)"><circle cx="94.3" cy="437.2" r="37.7" fill="#ffdde1"/><circle cx="132.0" cy="437.2" r="37.7" fill="#ffa3aa"/></g>
<g clip-path="url(#v149B)"><g clip-path="url(#v149L)"><circle cx="132.0" cy="437.2" r="37.7" fill="#fff"/></g></g>
<circle cx="94.3" cy="437.2" r="37.7" fill="none" stroke="#000" stroke-width="1.5"/>
<circle cx="132.0" cy="437.2" r="37.7" fill="none" stroke="#000" stroke-width="1.5"/>
<circle cx="113.2" cy="470.2" r="37.7" fill="none" stroke="#000" stroke-width="1.5"/>
<text transform="translate(113.90,449.00) scale(1,1.08)" font-size="10" text-anchor="middle" font-weight="bold" font-style="normal" fill="#000">suf</text>
<text transform="translate(26.60,416.90) scale(1,1.08)" font-size="9.4" text-anchor="start" font-weight="normal" font-style="normal" fill="#1a1a1a">GOO1</text>
<text transform="translate(170.00,416.90) scale(1,1.08)" font-size="9.6" text-anchor="start" font-weight="normal" font-style="normal" fill="#1a1a1a">X121</text>
<text transform="translate(113.00,520.20) scale(1,1.08)" font-size="9.4" text-anchor="middle" font-weight="normal" font-style="normal" fill="#1a1a1a">WT</text>
<path d="M45.6,405.2 Q113,378.2 180.8,406.7" fill="none" stroke="#000" stroke-width="0.9" marker-end="url(#ah)"/>
<path d="M103,514.7 C70,499.2 47,479.2 45.4,420.7" fill="none" stroke="#000" stroke-width="0.9" marker-end="url(#ah)"/>
<path d="M123.5,514.7 C156,499.2 179,479.2 181.2,420.7" fill="none" stroke="#000" stroke-width="0.9" marker-end="url(#ah)"/>
<rect x="220.9" y="235.40" width="12.2" height="7.94" fill="rgb(255, 0, 0)"/>
<rect x="220.9" y="243.04" width="12.2" height="7.94" fill="rgb(255, 14, 14)"/>
<rect x="220.9" y="250.67" width="12.2" height="7.94" fill="rgb(255, 28, 28)"/>
<rect x="220.9" y="258.31" width="12.2" height="7.94" fill="rgb(255, 42, 42)"/>
<rect x="220.9" y="265.94" width="12.2" height="7.94" fill="rgb(255, 57, 57)"/>
<rect x="220.9" y="273.58" width="12.2" height="7.94" fill="rgb(255, 71, 71)"/>
<rect x="220.9" y="281.21" width="12.2" height="7.94" fill="rgb(255, 85, 85)"/>
<rect x="220.9" y="288.85" width="12.2" height="7.94" fill="rgb(255, 99, 99)"/>
<rect x="220.9" y="296.48" width="12.2" height="7.94" fill="rgb(255, 113, 113)"/>
<rect x="220.9" y="304.12" width="12.2" height="7.94" fill="rgb(255, 128, 128)"/>
<rect x="220.9" y="311.75" width="12.2" height="7.94" fill="rgb(255, 142, 142)"/>
<rect x="220.9" y="319.39" width="12.2" height="7.94" fill="rgb(255, 156, 156)"/>
<rect x="220.9" y="327.02" width="12.2" height="7.94" fill="rgb(255, 170, 170)"/>
<rect x="220.9" y="334.66" width="12.2" height="7.94" fill="rgb(255, 184, 184)"/>
<rect x="220.9" y="342.29" width="12.2" height="7.94" fill="rgb(255, 198, 198)"/>
<rect x="220.9" y="349.93" width="12.2" height="7.94" fill="rgb(255, 212, 212)"/>
<rect x="220.9" y="357.56" width="12.2" height="7.94" fill="rgb(255, 227, 227)"/>
<rect x="220.9" y="365.20" width="12.2" height="7.94" fill="rgb(255, 241, 241)"/>
<rect x="220.9" y="372.83" width="12.2" height="7.94" fill="rgb(255, 255, 255)"/>
<rect x="220.9" y="380.47" width="12.2" height="7.94" fill="rgb(241, 251, 245)"/>
<rect x="220.9" y="388.10" width="12.2" height="7.94" fill="rgb(227, 246, 236)"/>
<rect x="220.9" y="395.74" width="12.2" height="7.94" fill="rgb(212, 242, 226)"/>
<rect x="220.9" y="403.37" width="12.2" height="7.94" fill="rgb(198, 237, 216)"/>
<rect x="220.9" y="411.01" width="12.2" height="7.94" fill="rgb(184, 233, 206)"/>
<rect x="220.9" y="418.64" width="12.2" height="7.94" fill="rgb(170, 229, 197)"/>
<rect x="220.9" y="426.28" width="12.2" height="7.94" fill="rgb(156, 224, 187)"/>
<rect x="220.9" y="433.91" width="12.2" height="7.94" fill="rgb(142, 220, 177)"/>
<rect x="220.9" y="441.55" width="12.2" height="7.94" fill="rgb(128, 216, 168)"/>
<rect x="220.9" y="449.18" width="12.2" height="7.94" fill="rgb(113, 211, 158)"/>
<rect x="220.9" y="456.82" width="12.2" height="7.94" fill="rgb(99, 207, 148)"/>
<rect x="220.9" y="464.45" width="12.2" height="7.94" fill="rgb(85, 202, 138)"/>
<rect x="220.9" y="472.09" width="12.2" height="7.94" fill="rgb(71, 198, 129)"/>
<rect x="220.9" y="479.72" width="12.2" height="7.94" fill="rgb(57, 194, 119)"/>
<rect x="220.9" y="487.36" width="12.2" height="7.94" fill="rgb(42, 189, 109)"/>
<rect x="220.9" y="494.99" width="12.2" height="7.94" fill="rgb(28, 185, 99)"/>
<rect x="220.9" y="502.63" width="12.2" height="7.94" fill="rgb(14, 180, 90)"/>
<rect x="220.9" y="510.26" width="12.2" height="7.94" fill="rgb(0, 176, 80)"/>
<text transform="translate(235.60,242.40) scale(1,1.08)" font-size="8.6" text-anchor="start" font-weight="normal" font-style="normal" fill="#1a1a1a">9</text>
<text transform="translate(235.40,380.50) scale(1,1.08)" font-size="8.6" text-anchor="start" font-weight="normal" font-style="normal" fill="#1a1a1a">0</text>
<text transform="translate(234.20,518.10) scale(1,1.08)" font-size="8.6" text-anchor="start" font-weight="normal" font-style="normal" fill="#1a1a1a">-9</text>
<text x="0" y="0" font-size="8.6" fill="#1a1a1a" text-anchor="middle" transform="translate(215.3,484.8) rotate(-90) scale(1,1.08)">log2 Fold Change</text>
<line x1="296.2" y1="248.20000000000002" x2="406.7" y2="248.20000000000002" stroke="#a2a2a8" stroke-width="3.4"/>
<line x1="416.6" y1="248.20000000000002" x2="466.9" y2="248.20000000000002" stroke="#a2a2a8" stroke-width="3.4"/>
<line x1="492.1" y1="248.20000000000002" x2="656.1" y2="248.20000000000002" stroke="#a2a2a8" stroke-width="3.4"/>
<path d="M336.60,242.60H314.30V237.60L304.00,247.90L314.30,258.20V253.20H336.60Z" fill="#8a53b9" stroke="#1a1a1a" stroke-width="0.9" stroke-linejoin="miter"/>
<text transform="translate(315.00,250.90) scale(1,1.08)" font-size="8.4" text-anchor="start" font-weight="normal" font-style="italic" fill="#fff">dnrO</text>
<path d="M364.30,242.60H386.60V237.60L396.90,247.90L386.60,258.20V253.20H364.30Z" fill="#8a53b9" stroke="#1a1a1a" stroke-width="0.9" stroke-linejoin="miter"/>
<text transform="translate(366.60,250.90) scale(1,1.08)" font-size="8.4" text-anchor="start" font-weight="normal" font-style="italic" fill="#fff">dnrN</text>
<path d="M429.30,242.60H452.60V237.60L463.10,247.90L452.60,258.20V253.20H429.30Z" fill="#8a53b9" stroke="#1a1a1a" stroke-width="0.9" stroke-linejoin="miter"/>
<text transform="translate(430.80,250.90) scale(1,1.08)" font-size="8.4" text-anchor="start" font-weight="normal" font-style="italic" fill="#fff">dnrI</text>
<rect x="517.6" y="240.6" width="117.4" height="14.0" fill="#f76fa3" stroke="#1a1a1a" stroke-width="0.9"/>
<text transform="translate(573.80,251.00) scale(1,1.08)" font-size="8.9" text-anchor="middle" font-weight="normal" font-style="normal" fill="#fff">Biosynthetic genes</text>
<path d="M347.80,246.90V236.30H337.80" fill="none" stroke="#000" stroke-width="2.1"/>
<path d="M333.60,236.30L338.60,233.50L338.60,239.10Z" fill="#000"/>
<path d="M352.20,246.90V236.50H362.80" fill="none" stroke="#ee1111" stroke-width="2.1"/>
<path d="M367.00,236.50L362.00,239.30L362.00,233.70Z" fill="#ee1111"/>
<path d="M420.80,246.90V236.40H431.80" fill="none" stroke="#000" stroke-width="2.1"/>
<path d="M436.00,236.40L431.00,239.20L431.00,233.60Z" fill="#000"/>
<path d="M499.10,246.90V236.60H510.40" fill="none" stroke="#000" stroke-width="2.1"/>
<path d="M514.60,236.60L509.60,239.40L509.60,233.80Z" fill="#000"/>
<line x1="320.30" y1="258.60" x2="320.30" y2="277.04" stroke="#000" stroke-width="1.35" stroke-dasharray="1.5 1.4"/>
<path d="M320.30,279.60L318.50,275.60L322.10,275.60Z" fill="#000"/>
<line x1="380.80" y1="258.60" x2="380.80" y2="277.04" stroke="#000" stroke-width="1.35" stroke-dasharray="1.5 1.4"/>
<path d="M380.80,279.60L379.00,275.60L382.60,275.60Z" fill="#000"/>
<line x1="446.00" y1="258.60" x2="446.00" y2="276.64" stroke="#000" stroke-width="1.35" stroke-dasharray="1.5 1.4"/>
<path d="M446.00,279.20L444.20,275.20L447.80,275.20Z" fill="#000"/>
<line x1="591.30" y1="258.00" x2="591.30" y2="280.24" stroke="#000" stroke-width="1.35" stroke-dasharray="1.5 1.4"/>
<path d="M591.30,282.80L589.50,278.80L593.10,278.80Z" fill="#000"/>
<circle cx="320.30" cy="295.20" r="14.1" fill="#8a53b9" stroke="#111" stroke-width="1.0"/>
<text transform="translate(320.30,299.20) scale(1,1.08)" font-size="8.8" text-anchor="middle" font-weight="normal" font-style="normal" fill="#fff">DnrO</text>
<circle cx="380.80" cy="295.20" r="14.0" fill="#8a53b9" stroke="#111" stroke-width="1.0"/>
<text transform="translate(380.80,299.20) scale(1,1.08)" font-size="8.8" text-anchor="middle" font-weight="normal" font-style="normal" fill="#fff">DnrN</text>
<circle cx="446.00" cy="295.60" r="14.0" fill="#8a53b9" stroke="#111" stroke-width="1.0"/>
<text transform="translate(446.00,299.60) scale(1,1.08)" font-size="8.8" text-anchor="middle" font-weight="normal" font-style="normal" fill="#fff">DnrI</text>
<path d="M335.9,287.2 C343,284 345.5,274 345.5,256.2" fill="none" stroke="#000" stroke-width="1.3"/>
<path d="M342.1,255.9H349" stroke="#000" stroke-width="1.3"/>
<path d="M337.4,294.8 C349,290 354,275 356.2,258.8" fill="none" stroke="#000" stroke-width="1.3"/>
<path d="M356.80,254.00L358.31,258.92L353.78,258.16Z" fill="#000"/>
<path d="M399.7,294.2 C413,292 419,278 422.0,257.8" fill="none" stroke="#000" stroke-width="1.3"/>
<path d="M422.60,253.20L424.18,258.09L419.63,257.40Z" fill="#000"/>
<path d="M458.3,282.6 C470,266 486,258 502.2,255.8" fill="none" stroke="#000" stroke-width="1.3"/>
<path d="M506.90,255.10L502.69,258.05L502.01,253.50Z" fill="#000"/>
<path d="M508.5,317.1 C460,322 400,330 355,325 C343,323.5 335,319 330.5,312.6" fill="none" stroke="#000" stroke-width="1.3"/>
<path d="M325,313.6 L333.8,309.6" stroke="#000" stroke-width="1.3"/>
<line x1="521.80" y1="288.39" x2="529.47" y2="292.82" stroke="#222" stroke-width="0.9"/>
<line x1="529.47" y1="292.82" x2="529.47" y2="301.68" stroke="#222" stroke-width="0.9"/>
<line x1="529.47" y1="301.68" x2="521.80" y2="306.11" stroke="#222" stroke-width="0.9"/>
<line x1="521.80" y1="306.11" x2="514.13" y2="301.68" stroke="#222" stroke-width="0.9"/>
<line x1="514.13" y1="301.68" x2="514.13" y2="292.82" stroke="#222" stroke-width="0.9"/>
<line x1="514.13" y1="292.82" x2="521.80" y2="288.39" stroke="#222" stroke-width="0.9"/>
<line x1="522.35" y1="290.31" x2="527.53" y2="293.30" stroke="#222" stroke-width="0.9"/>
<line x1="527.53" y1="301.20" x2="522.35" y2="304.19" stroke="#222" stroke-width="0.9"/>
<line x1="515.51" y1="300.24" x2="515.51" y2="294.26" stroke="#222" stroke-width="0.9"/>
<line x1="537.15" y1="288.39" x2="544.82" y2="292.82" stroke="#222" stroke-width="0.9"/>
<line x1="544.82" y1="292.82" x2="544.82" y2="301.68" stroke="#222" stroke-width="0.9"/>
<line x1="544.82" y1="301.68" x2="537.15" y2="306.11" stroke="#222" stroke-width="0.9"/>
<line x1="537.15" y1="306.11" x2="529.47" y2="301.68" stroke="#222" stroke-width="0.9"/>
<line x1="529.47" y1="292.82" x2="537.15" y2="288.39" stroke="#222" stroke-width="0.9"/>
<line x1="552.49" y1="288.39" x2="560.16" y2="292.82" stroke="#222" stroke-width="0.9"/>
<line x1="560.16" y1="292.82" x2="560.16" y2="301.68" stroke="#222" stroke-width="0.9"/>
<line x1="560.16" y1="301.68" x2="552.49" y2="306.11" stroke="#222" stroke-width="0.9"/>
<line x1="552.49" y1="306.11" x2="544.82" y2="301.68" stroke="#222" stroke-width="0.9"/>
<line x1="544.82" y1="292.82" x2="552.49" y2="288.39" stroke="#222" stroke-width="0.9"/>
<line x1="553.05" y1="290.31" x2="558.23" y2="293.30" stroke="#222" stroke-width="0.9"/>
<line x1="558.23" y1="301.20" x2="553.05" y2="304.19" stroke="#222" stroke-width="0.9"/>
<line x1="546.20" y1="300.24" x2="546.20" y2="294.26" stroke="#222" stroke-width="0.9"/>
<line x1="567.84" y1="288.39" x2="575.51" y2="292.82" stroke="#222" stroke-width="0.9"/>
<line x1="575.51" y1="292.82" x2="575.51" y2="301.68" stroke="#222" stroke-width="0.9"/>
<line x1="575.51" y1="301.68" x2="567.84" y2="306.11" stroke="#222" stroke-width="0.9"/>
<line x1="567.84" y1="306.11" x2="560.16" y2="301.68" stroke="#222" stroke-width="0.9"/>
<line x1="560.16" y1="292.82" x2="567.84" y2="288.39" stroke="#222" stroke-width="0.9"/>
<line x1="536.35" y1="288.39" x2="536.35" y2="282.30" stroke="#222" stroke-width="0.9"/>
<line x1="537.95" y1="288.39" x2="537.95" y2="282.30" stroke="#222" stroke-width="0.9"/>
<text class="nk" x="537.15" y="281.80" font-size="6.3" text-anchor="middle" fill="#222">O</text>
<line x1="536.35" y1="306.11" x2="536.35" y2="312.40" stroke="#222" stroke-width="0.9"/>
<line x1="537.95" y1="306.11" x2="537.95" y2="312.40" stroke="#222" stroke-width="0.9"/>
<text class="nk" x="537.15" y="317.60" font-size="6.3" text-anchor="middle" fill="#222">O</text>
<line x1="552.49" y1="288.39" x2="552.49" y2="282.40" stroke="#222" stroke-width="0.9"/>
<text class="nk" x="550.09" y="281.90" font-size="6.3" text-anchor="start" fill="#222">OH</text>
<line x1="552.49" y1="306.11" x2="552.49" y2="312.30" stroke="#222" stroke-width="0.9"/>
<text class="nk" x="550.09" y="317.60" font-size="6.3" text-anchor="start" fill="#222">OH</text>
<line x1="521.80" y1="306.11" x2="521.80" y2="312.30" stroke="#222" stroke-width="0.9"/>
<text class="nk" x="521.80" y="317.60" font-size="6.3" text-anchor="middle" fill="#222">O</text>
<line x1="519.90" y1="317.40" x2="515.40" y2="322.20" stroke="#222" stroke-width="0.9"/>
<path d="M575.51,292.82L584.36,290.08L583.24,287.72Z" fill="#222"/>
<line x1="583.00" y1="288.90" x2="583.00" y2="282.60" stroke="#222" stroke-width="0.9"/>
<line x1="584.60" y1="289.30" x2="584.60" y2="282.60" stroke="#222" stroke-width="0.9"/>
<text class="nk" x="583.80" y="282.20" font-size="6.3" text-anchor="middle" fill="#222">O</text>
<line x1="583.80" y1="288.90" x2="591.60" y2="293.20" stroke="#222" stroke-width="0.9"/>
<line x1="591.60" y1="293.20" x2="596.40" y2="290.60" stroke="#222" stroke-width="0.9"/>
<text class="nk" x="596.60" y="291.90" font-size="6.3" text-anchor="start" fill="#222">OH</text>
<line x1="575.81" y1="292.65" x2="576.33" y2="293.54" stroke="#222" stroke-width="0.6"/>
<line x1="576.81" y1="292.98" x2="577.58" y2="294.30" stroke="#222" stroke-width="0.6"/>
<line x1="577.80" y1="293.31" x2="578.83" y2="295.05" stroke="#222" stroke-width="0.6"/>
<line x1="578.80" y1="293.64" x2="580.08" y2="295.81" stroke="#222" stroke-width="0.6"/>
<text class="nk" x="580.20" y="300.00" font-size="6.3" text-anchor="start" fill="#222">OH</text>
<line x1="567.31" y1="306.92" x2="568.36" y2="306.92" stroke="#222" stroke-width="0.6"/>
<line x1="567.06" y1="308.54" x2="568.61" y2="308.54" stroke="#222" stroke-width="0.6"/>
<line x1="566.81" y1="310.17" x2="568.86" y2="310.17" stroke="#222" stroke-width="0.6"/>
<line x1="566.56" y1="311.79" x2="569.11" y2="311.79" stroke="#222" stroke-width="0.6"/>
<text class="nk" x="567.84" y="317.50" font-size="6.3" text-anchor="middle" fill="#222">O</text>
<line x1="569.90" y1="317.50" x2="571.40" y2="319.00" stroke="#222" stroke-width="0.9"/>
<line x1="571.40" y1="319.00" x2="571.40" y2="328.40" stroke="#222" stroke-width="0.9"/>
<line x1="571.40" y1="328.40" x2="579.20" y2="332.90" stroke="#222" stroke-width="0.9"/>
<line x1="579.20" y1="332.90" x2="586.60" y2="328.40" stroke="#222" stroke-width="0.9"/>
<line x1="586.60" y1="328.40" x2="586.60" y2="319.00" stroke="#222" stroke-width="0.9"/>
<line x1="586.60" y1="319.00" x2="581.60" y2="317.00" stroke="#222" stroke-width="0.9"/>
<line x1="571.40" y1="319.00" x2="576.00" y2="317.00" stroke="#222" stroke-width="0.9"/>
<text class="nk" x="578.90" y="317.60" font-size="6.3" text-anchor="middle" fill="#222">O</text>
<path d="M586.60,319.00L594.93,316.69L593.87,314.31Z" fill="#222"/>
<path d="M586.60,328.40L590.96,332.33L592.24,330.07Z" fill="#222"/>
<text class="nk" x="592.00" y="335.20" font-size="6.3" text-anchor="start" fill="#222">OH</text>
<path d="M579.20,332.90L577.90,338.80L580.50,338.80Z" fill="#222"/>
<text class="nk" x="576.3" y="344.4" font-size="6.3" fill="#222">NH<tspan font-size="4.0" dy="1.2">2</tspan></text>
<line x1="299.4" y1="445.8" x2="597.9" y2="445.8" stroke="#a2a2a8" stroke-width="3.4"/>
<text transform="translate(299.20,442.40) scale(1,1.08)" font-size="8.5" text-anchor="start" font-weight="normal" font-style="normal" fill="#1a1a1a">WT</text>
<text transform="translate(299.20,455.70) scale(1,1.08)" font-size="8.3" text-anchor="start" font-weight="normal" font-style="normal" fill="#1a1a1a">X121</text>
<path d="M340,434.1H329.4V457.3H340" fill="none" stroke="#000" stroke-width="2.1"/>
<path d="M344.60,434.10L339.60,436.90L339.60,431.30Z" fill="#000"/>
<path d="M344.60,457.30L339.60,460.10L339.60,454.50Z" fill="#000"/>
<path d="M336.6,401.4 C331,403.5 329,410 329,427.6" fill="none" stroke="#000" stroke-width="1.3"/>
<path d="M325.1,427.7H332.9" stroke="#000" stroke-width="1.3"/>
<path d="M336.30,441.30H359.90V435.85L369.30,446.10L359.90,456.35V450.90H336.30Z" fill="#8a53b9" stroke="#1a1a1a" stroke-width="0.9" stroke-linejoin="miter"/>
<text transform="translate(338.30,449.10) scale(1,1.08)" font-size="8.9" text-anchor="start" font-weight="normal" font-style="italic" fill="#fff">sufR</text>
<path d="M372.82,441.30H396.42V435.85L405.82,446.10L396.42,456.35V450.90H372.82Z" fill="#f76fa3" stroke="#1a1a1a" stroke-width="0.9" stroke-linejoin="miter"/>
<text transform="translate(374.82,449.10) scale(1,1.08)" font-size="8.9" text-anchor="start" font-weight="normal" font-style="italic" fill="#fff">sufB</text>
<path d="M409.34,441.30H432.94V435.85L442.34,446.10L432.94,456.35V450.90H409.34Z" fill="#f76fa3" stroke="#1a1a1a" stroke-width="0.9" stroke-linejoin="miter"/>
<text transform="translate(411.34,449.10) scale(1,1.08)" font-size="8.9" text-anchor="start" font-weight="normal" font-style="italic" fill="#fff">sufD</text>
<path d="M445.86,441.30H469.46V435.85L478.86,446.10L469.46,456.35V450.90H445.86Z" fill="#ff0000" stroke="#1a1a1a" stroke-width="0.9" stroke-linejoin="miter"/>
<text transform="translate(447.86,449.10) scale(1,1.08)" font-size="8.9" text-anchor="start" font-weight="normal" font-style="italic" fill="#fff">fdx4</text>
<path d="M482.38,441.30H505.98V435.85L515.38,446.10L505.98,456.35V450.90H482.38Z" fill="#f76fa3" stroke="#1a1a1a" stroke-width="0.9" stroke-linejoin="miter"/>
<text transform="translate(484.38,449.10) scale(1,1.08)" font-size="8.9" text-anchor="start" font-weight="normal" font-style="italic" fill="#fff">sufC</text>
<path d="M518.90,441.30H542.50V435.85L551.90,446.10L542.50,456.35V450.90H518.90Z" fill="#f76fa3" stroke="#1a1a1a" stroke-width="0.9" stroke-linejoin="miter"/>
<text transform="translate(520.90,449.10) scale(1,1.08)" font-size="8.9" text-anchor="start" font-weight="normal" font-style="italic" fill="#fff">sufS</text>
<path d="M555.42,441.30H579.02V435.85L588.42,446.10L579.02,456.35V450.90H555.42Z" fill="#f76fa3" stroke="#1a1a1a" stroke-width="0.9" stroke-linejoin="miter"/>
<text transform="translate(557.42,449.10) scale(1,1.08)" font-size="8.9" text-anchor="start" font-weight="normal" font-style="italic" fill="#fff">sufE</text>
<circle cx="405.80" cy="398.00" r="14.0" fill="#f76fa3" stroke="#111" stroke-width="1.0"/>
<text transform="translate(405.80,402.00) scale(1,1.08)" font-size="8.8" text-anchor="middle" font-weight="normal" font-style="normal" fill="#fff">SufB</text>
<circle cx="430.20" cy="398.00" r="14.0" fill="#f76fa3" stroke="#111" stroke-width="1.0"/>
<text transform="translate(430.20,402.00) scale(1,1.08)" font-size="8.8" text-anchor="middle" font-weight="normal" font-style="normal" fill="#fff">SufD</text>
<circle cx="455.70" cy="398.00" r="14.0" fill="#f76fa3" stroke="#111" stroke-width="1.0"/>
<text transform="translate(455.70,402.00) scale(1,1.08)" font-size="8.8" text-anchor="middle" font-weight="normal" font-style="normal" fill="#fff">SufC</text>
<circle cx="530.50" cy="397.70" r="14.0" fill="#f76fa3" stroke="#111" stroke-width="1.0"/>
<text transform="translate(530.50,401.70) scale(1,1.08)" font-size="8.8" text-anchor="middle" font-weight="normal" font-style="normal" fill="#fff">SufS</text>
<circle cx="556.70" cy="397.70" r="14.0" fill="#f76fa3" stroke="#111" stroke-width="1.0"/>
<text transform="translate(556.70,401.70) scale(1,1.08)" font-size="8.8" text-anchor="middle" font-weight="normal" font-style="normal" fill="#fff">SufE</text>
<circle cx="354.50" cy="398.20" r="14.1" fill="#8a53b9" stroke="#111" stroke-width="1.0"/>
<text transform="translate(354.50,402.20) scale(1,1.08)" font-size="8.8" text-anchor="middle" font-weight="normal" font-style="normal" fill="#fff">SufR</text>
<circle cx="405.70" cy="499.80" r="14.0" fill="#f76fa3" stroke="#111" stroke-width="1.0"/>
<text transform="translate(405.70,503.80) scale(1,1.08)" font-size="8.8" text-anchor="middle" font-weight="normal" font-style="normal" fill="#fff">SufB</text>
<circle cx="430.20" cy="499.80" r="14.0" fill="#f76fa3" stroke="#111" stroke-width="1.0"/>
<text transform="translate(430.20,503.80) scale(1,1.08)" font-size="8.8" text-anchor="middle" font-weight="normal" font-style="normal" fill="#fff">SufD</text>
<circle cx="455.40" cy="499.80" r="14.0" fill="#f76fa3" stroke="#111" stroke-width="1.0"/>
<text transform="translate(455.40,503.80) scale(1,1.08)" font-size="8.8" text-anchor="middle" font-weight="normal" font-style="normal" fill="#fff">SufC</text>
<circle cx="530.50" cy="500.00" r="14.0" fill="#f76fa3" stroke="#111" stroke-width="1.0"/>
<text transform="translate(530.50,504.00) scale(1,1.08)" font-size="8.8" text-anchor="middle" font-weight="normal" font-style="normal" fill="#fff">SufS</text>
<circle cx="557.30" cy="500.00" r="14.0" fill="#f76fa3" stroke="#111" stroke-width="1.0"/>
<text transform="translate(557.30,504.00) scale(1,1.08)" font-size="8.8" text-anchor="middle" font-weight="normal" font-style="normal" fill="#fff">SufE</text>
<circle cx="354.60" cy="499.90" r="13.9" fill="#8a53b9" stroke="#111" stroke-width="1.0"/>
<text transform="translate(354.40,500.90) scale(1,1.08)" font-size="8.8" text-anchor="middle" font-weight="normal" font-style="normal" fill="#f0102e">SufR</text>
<text transform="translate(354.60,505.90) scale(1,1.08)" font-size="5.2" text-anchor="middle" font-weight="bold" font-style="normal" fill="#f0102e">G235 D</text>
<line x1="354.50" y1="435.60" x2="354.50" y2="417.16" stroke="#000" stroke-width="1.35" stroke-dasharray="1.5 1.4"/>
<path d="M354.50,414.60L356.30,418.60L352.70,418.60Z" fill="#000"/>
<line x1="390.90" y1="436.00" x2="399.85" y2="416.13" stroke="#000" stroke-width="1.35" stroke-dasharray="1.5 1.4"/>
<path d="M400.90,413.80L400.90,418.19L397.62,416.71Z" fill="#000"/>
<line x1="430.60" y1="436.00" x2="430.60" y2="417.56" stroke="#000" stroke-width="1.35" stroke-dasharray="1.5 1.4"/>
<path d="M430.60,415.00L432.40,419.00L428.80,419.00Z" fill="#000"/>
<line x1="482.90" y1="435.40" x2="470.47" y2="413.62" stroke="#000" stroke-width="1.35" stroke-dasharray="1.5 1.4"/>
<path d="M469.20,411.40L472.75,413.98L469.62,415.77Z" fill="#000"/>
<line x1="530.50" y1="436.60" x2="530.50" y2="417.16" stroke="#000" stroke-width="1.35" stroke-dasharray="1.5 1.4"/>
<path d="M530.50,414.60L532.30,418.60L528.70,418.60Z" fill="#000"/>
<line x1="578.30" y1="436.40" x2="566.10" y2="415.80" stroke="#000" stroke-width="1.35" stroke-dasharray="1.5 1.4"/>
<path d="M564.80,413.60L568.39,416.12L565.29,417.96Z" fill="#000"/>
<line x1="354.40" y1="458.40" x2="354.40" y2="481.04" stroke="#000" stroke-width="1.35" stroke-dasharray="1.5 1.4"/>
<path d="M354.40,483.60L352.60,479.60L356.20,479.60Z" fill="#000"/>
<line x1="385.60" y1="461.40" x2="392.83" y2="481.49" stroke="#000" stroke-width="1.35" stroke-dasharray="1.5 1.4"/>
<path d="M393.70,483.90L390.65,480.75L394.04,479.53Z" fill="#000"/>
<line x1="390.00" y1="459.80" x2="397.13" y2="479.59" stroke="#000" stroke-width="1.35" stroke-dasharray="1.5 1.4"/>
<path d="M398.00,482.00L394.95,478.85L398.34,477.63Z" fill="#000"/>
<line x1="394.50" y1="458.20" x2="401.37" y2="478.28" stroke="#000" stroke-width="1.35" stroke-dasharray="1.5 1.4"/>
<path d="M402.20,480.70L399.20,477.50L402.61,476.33Z" fill="#000"/>
<line x1="426.30" y1="458.60" x2="426.30" y2="478.24" stroke="#000" stroke-width="1.35" stroke-dasharray="1.5 1.4"/>
<path d="M426.30,480.80L424.50,476.80L428.10,476.80Z" fill="#000"/>
<line x1="430.40" y1="458.60" x2="430.40" y2="478.24" stroke="#000" stroke-width="1.35" stroke-dasharray="1.5 1.4"/>
<path d="M430.40,480.80L428.60,476.80L432.20,476.80Z" fill="#000"/>
<line x1="434.60" y1="458.60" x2="434.60" y2="478.24" stroke="#000" stroke-width="1.35" stroke-dasharray="1.5 1.4"/>
<path d="M434.60,480.80L432.80,476.80L436.40,476.80Z" fill="#000"/>
<line x1="481.20" y1="457.40" x2="464.33" y2="477.92" stroke="#000" stroke-width="1.35" stroke-dasharray="1.5 1.4"/>
<path d="M462.70,479.90L463.85,475.67L466.63,477.95Z" fill="#000"/>
<line x1="484.40" y1="459.80" x2="468.28" y2="480.29" stroke="#000" stroke-width="1.35" stroke-dasharray="1.5 1.4"/>
<path d="M466.70,482.30L467.76,478.04L470.59,480.27Z" fill="#000"/>
<line x1="487.60" y1="462.20" x2="471.84" y2="483.15" stroke="#000" stroke-width="1.35" stroke-dasharray="1.5 1.4"/>
<path d="M470.30,485.20L471.27,480.92L474.14,483.09Z" fill="#000"/>
<line x1="526.20" y1="458.60" x2="526.20" y2="476.04" stroke="#000" stroke-width="1.35" stroke-dasharray="1.5 1.4"/>
<path d="M526.20,478.60L524.40,474.60L528.00,474.60Z" fill="#000"/>
<line x1="530.50" y1="458.60" x2="530.50" y2="476.04" stroke="#000" stroke-width="1.35" stroke-dasharray="1.5 1.4"/>
<path d="M530.50,478.60L528.70,474.60L532.30,474.60Z" fill="#000"/>
<line x1="534.60" y1="458.60" x2="534.60" y2="476.04" stroke="#000" stroke-width="1.35" stroke-dasharray="1.5 1.4"/>
<path d="M534.60,478.60L532.80,474.60L536.40,474.60Z" fill="#000"/>
<line x1="566.40" y1="455.80" x2="559.07" y2="476.19" stroke="#000" stroke-width="1.35" stroke-dasharray="1.5 1.4"/>
<path d="M558.20,478.60L557.86,474.23L561.25,475.45Z" fill="#000"/>
<line x1="570.40" y1="456.20" x2="563.05" y2="476.99" stroke="#000" stroke-width="1.35" stroke-dasharray="1.5 1.4"/>
<path d="M562.20,479.40L561.84,475.03L565.23,476.23Z" fill="#000"/>
<line x1="574.40" y1="456.60" x2="567.04" y2="477.78" stroke="#000" stroke-width="1.35" stroke-dasharray="1.5 1.4"/>
<path d="M566.20,480.20L565.81,475.83L569.21,477.01Z" fill="#000"/>
<line x1="582.40" y1="404.00" x2="615.84" y2="404.00" stroke="#000" stroke-width="1.35" stroke-dasharray="1.5 1.4"/>
<path d="M618.40,404.00L614.40,405.80L614.40,402.20Z" fill="#000"/>
<line x1="579.70" y1="494.60" x2="613.64" y2="494.60" stroke="#000" stroke-width="1.35" stroke-dasharray="1.5 1.4"/>
<path d="M616.20,494.60L612.20,496.40L612.20,492.80Z" fill="#000"/>
<line x1="579.70" y1="497.50" x2="613.64" y2="497.50" stroke="#000" stroke-width="1.35" stroke-dasharray="1.5 1.4"/>
<path d="M616.20,497.50L612.20,499.30L612.20,495.70Z" fill="#000"/>
<line x1="579.70" y1="500.40" x2="613.64" y2="500.40" stroke="#000" stroke-width="1.35" stroke-dasharray="1.5 1.4"/>
<path d="M616.20,500.40L612.20,502.20L612.20,498.60Z" fill="#000"/>
<line x1="579.70" y1="503.30" x2="613.64" y2="503.30" stroke="#000" stroke-width="1.35" stroke-dasharray="1.5 1.4"/>
<path d="M616.20,503.30L612.20,505.10L612.20,501.50Z" fill="#000"/>
<circle cx="365.90" cy="382.60" r="3.2" fill="#ff0000"/>
<circle cx="352.00" cy="384.70" r="3.0" fill="#000"/>
<circle cx="363.20" cy="387.70" r="3.3" fill="#000"/>
<circle cx="360.40" cy="380.70" r="3.3" fill="#000"/>
<circle cx="354.50" cy="380.00" r="3.4" fill="#ff0000"/>
<circle cx="357.70" cy="386.80" r="3.8" fill="#ff0000"/>
<circle cx="626.50" cy="480.20" r="3.2" fill="#000"/>
<circle cx="637.90" cy="479.50" r="3.0" fill="#000"/>
<circle cx="625.00" cy="474.30" r="3.0" fill="#ff0000"/>
<circle cx="630.70" cy="473.40" r="3.1" fill="#000"/>
<circle cx="637.00" cy="474.30" r="3.1" fill="#ff0000"/>
<circle cx="632.40" cy="480.40" r="3.6" fill="#ff0000"/>
<circle cx="626.50" cy="497.70" r="3.2" fill="#000"/>
<circle cx="637.90" cy="497.00" r="3.0" fill="#000"/>
<circle cx="625.00" cy="491.80" r="3.0" fill="#ff0000"/>
<circle cx="630.70" cy="490.90" r="3.1" fill="#000"/>
<circle cx="637.00" cy="491.80" r="3.1" fill="#ff0000"/>
<circle cx="632.40" cy="497.90" r="3.6" fill="#ff0000"/>
<circle cx="626.50" cy="515.20" r="3.2" fill="#000"/>
<circle cx="637.90" cy="514.50" r="3.0" fill="#000"/>
<circle cx="625.00" cy="509.30" r="3.0" fill="#ff0000"/>
<circle cx="630.70" cy="508.40" r="3.1" fill="#000"/>
<circle cx="637.00" cy="509.30" r="3.1" fill="#ff0000"/>
<circle cx="632.40" cy="515.40" r="3.6" fill="#ff0000"/>
<circle cx="631.10" cy="397.80" r="3.0" fill="#000"/>
<circle cx="636.80" cy="396.10" r="3.1" fill="#ff0000"/>
<circle cx="637.60" cy="401.50" r="3.1" fill="#000"/>
<circle cx="630.80" cy="403.20" r="3.6" fill="#ff0000"/>
<circle cx="631.80" cy="408.50" r="3.1" fill="#000"/>
<circle cx="636.80" cy="407.90" r="3.4" fill="#ff0000"/>
<path d="M634.2,385.2 C632.5,378 626,376 600,375.6 C545,374.9 450,375.2 379.5,377.0" fill="none" stroke="#000" stroke-width="1.3"/>
<path d="M375.00,377.10L380.10,374.71L379.89,379.91Z" fill="#000"/>
</svg>
</body></html>
